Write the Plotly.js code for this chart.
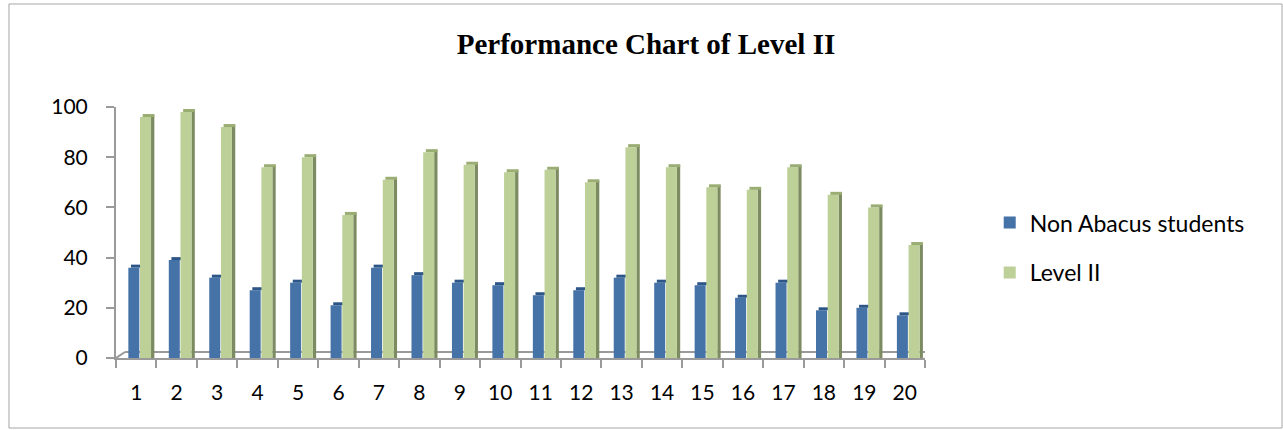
<!DOCTYPE html>
<html>
<head>
<meta charset="utf-8">
<script src="https://cdn.plot.ly/plotly-3.0.1.min.js"></script>
<style>html,body{margin:0;padding:0;background:#fff;}#chart{width:1283px;height:430px;}</style>
</head>
<body>
<div id="chart"></div>
<script>
const categories = ["1","2","3","4","5","6","7","8","9","10","11","12","13","14","15","16","17","18","19","20"];
const nonAbacus = [36, 39, 32, 27, 30, 21, 36, 33, 30, 29, 25, 27, 32, 30, 29, 24, 30, 19, 20, 17];
const levelII = [96, 98, 92, 76, 80, 57, 71, 82, 77, 74, 75, 70, 84, 76, 68, 67, 76, 65, 60, 45];
const seriesNames = ["Non Abacus students", "Level II"];
const yTicks = [0, 20, 40, 60, 80, 100];

const CAP = 1.2; // depth of 3D top face in value units
const axisGrey = "#9a9a9a";
const font = "Lato, 'Open Sans', sans-serif";

const traces = [
  {type:"bar", x:categories, y:nonAbacus, name:seriesNames[0], offset:-0.195, width:0.272,
   marker:{color:"#4572a7", line:{width:0}}, legendgroup:"a", hoverinfo:"y"},
  {type:"bar", x:categories, y:nonAbacus.map(()=>CAP), base:nonAbacus, offset:-0.13, width:0.27,
   marker:{color:"#2c5687", line:{width:0}}, showlegend:false, hoverinfo:"skip"},
  {type:"bar", x:categories, y:levelII.map(v=>v+CAP*0.8), offset:0.366, width:0.082,
   marker:{color:"#7d8b62", line:{width:0}}, showlegend:false, hoverinfo:"skip"},
  {type:"bar", x:categories, y:levelII, name:seriesNames[1], offset:0.094, width:0.272,
   marker:{color:"#bdd097", line:{width:0}}, legendgroup:"b", hoverinfo:"y"},
  {type:"bar", x:categories, y:levelII.map(()=>CAP), base:levelII, offset:0.16, width:0.288,
   marker:{color:"#9aad72", line:{width:0}}, showlegend:false, hoverinfo:"skip"}
];

const layout = {
  width:1283, height:430,
  margin:{l:116, r:358, t:107, b:72, pad:0},
  paper_bgcolor:"#ffffff", plot_bgcolor:"rgba(0,0,0,0)",
  barmode:"overlay",
  showlegend:true,
  title:{text:"<b>Performance Chart of Level II</b>", x:0.5035, xref:"container", y:0.898, yref:"container",
         xanchor:"center", yanchor:"middle",
         font:{family:"'Liberation Serif', 'Times New Roman', serif", size:29, color:"#000"}},
  xaxis:{type:"category", range:[-0.5,19.5], showline:true, linecolor:axisGrey, linewidth:2,
         ticks:"outside", tickson:"boundaries", ticklen:8, tickcolor:axisGrey, tickwidth:2,
         showgrid:false, zeroline:false, tickfont:{family:font, size:21, color:"#000"},
         ticklabelstandoff:15, fixedrange:true},
  yaxis:{range:[0,100], tickvals:yTicks, ticktext:yTicks.map(String), showline:true, linecolor:axisGrey, linewidth:2,
         ticks:"outside", ticklen:8, tickcolor:axisGrey, tickwidth:2, showgrid:false, zeroline:false,
         tickfont:{family:font, size:21, color:"#000"}, ticklabelstandoff:14, fixedrange:true},
  legend:{x:1.08, xanchor:"left", y:0.625, yanchor:"top", font:{family:font, size:23, color:"#000"},
          tracegroupgap:17, bgcolor:"rgba(0,0,0,0)"},
  shapes:[
    {type:"line", xref:"x", yref:"y", x0:-0.278, y0:2.4, x1:19.747, y1:2.4, line:{color:axisGrey, width:2}, layer:"below"},
    {type:"line", xref:"x", yref:"y", x0:-0.5, y0:0, x1:-0.278, y1:2.4, line:{color:axisGrey, width:2}, layer:"below"},
    {type:"line", xref:"x", yref:"y", x0:19.5, y0:0, x1:19.747, y1:2.4, line:{color:axisGrey, width:2}, layer:"below"},
    {type:"rect", xref:"paper", yref:"paper", x0:-0.1323, y0:-0.2789, x1:1.4413, y1:1.4104,
     line:{color:"#a6a6a6", width:1}, fillcolor:"rgba(0,0,0,0)", layer:"below"}
  ]
};

Plotly.newPlot("chart", traces, layout, {staticPlot:true, displayModeBar:false});
</script>
</body>
</html>
